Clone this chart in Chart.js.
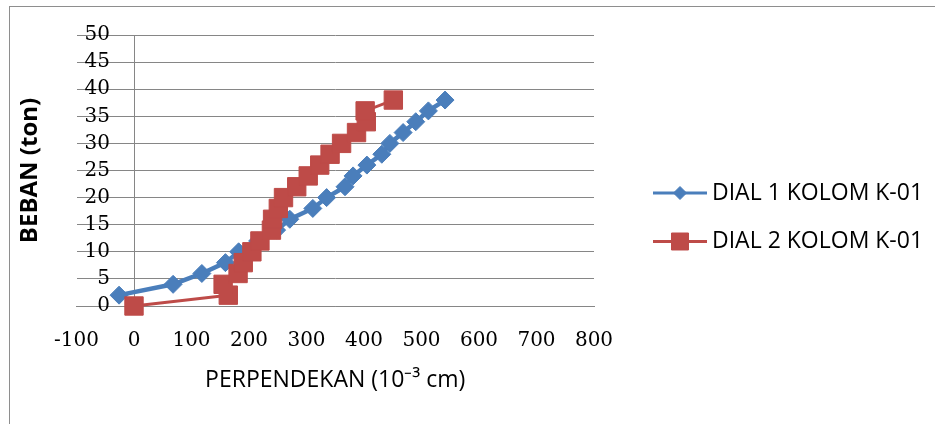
<!DOCTYPE html>
<html>
<head>
<meta charset="utf-8">
<script src="https://cdn.jsdelivr.net/npm/chart.js@4/dist/chart.umd.min.js"></script>
<style>
    html, body { margin: 0; padding: 0; background: #fff; }
    #wrap { position: relative; width: 935px; height: 424px; overflow: hidden; }
    #frame { position: absolute; left: 9px; top: 6px; width: 940px; height: 440px; border: 1px solid #8e8e8e; }
    #chartBeban { position: absolute; left: 0; top: 0; }
</style>
</head>
<body>
<div id="wrap">
    <div id="frame"></div>
    <canvas id="chartBeban" width="935" height="424"></canvas>
</div>
<script>
// DIAL 1 KOLOM K-01
const dial1X = [-26, 68, 118, 159, 182, 215, 248, 271, 311, 335, 367, 381, 405, 431, 445, 468, 490, 512, 541];
const dial1Y = [2, 4, 6, 8, 10, 12, 14, 16, 18, 20, 22, 24, 26, 28, 30, 32, 34, 36, 38];

// DIAL 2 KOLOM K-01
const dial2X = [0, 164, 155, 181, 190, 205, 219, 239, 241, 251, 260, 283, 303, 323, 341, 361, 387, 404, 402, 451];
const dial2Y = [0, 2, 4, 6, 8, 10, 12, 14, 16, 18, 20, 22, 24, 26, 28, 30, 32, 34, 36, 38];

const labelsSeries = ["DIAL 1 KOLOM K-01", "DIAL 2 KOLOM K-01"];
const ticksX = [-100, 0, 100, 200, 300, 400, 500, 600, 700, 800];
const ticksY = [0, 5, 10, 15, 20, 25, 30, 35, 40, 45, 50];

const bleu = "#4A7EBB";
const rouge = "#BE4B48";
const gris = "#868686";

const points = (xs, ys) => xs.map((x, i) => ({ x: x, y: ys[i] }));

// legende a droite : ligne + marqueur + texte (comme Excel)
const legendeExcel = {
    id: "legendeExcel",
    afterDraw(chart) {
        const g = chart.ctx;
        const droite = chart.chartArea.right;
        g.save();
        chart.data.datasets.forEach((ds, i) => {
            const y = 193 + i * 48.5;
            g.strokeStyle = ds.borderColor;
            g.fillStyle = ds.borderColor;
            g.lineWidth = 3;
            g.beginPath();
            g.moveTo(droite + 59, y);
            g.lineTo(droite + 113, y);
            g.stroke();
            g.lineWidth = 1;
            Chart.helpers.drawPoint(g, {
                pointStyle: ds.pointStyle,
                rotation: 0,
                radius: ds.pointStyle === "rect" ? 12 : 6.5,
                borderWidth: 1
            }, droite + 86, y);
            g.fillStyle = "#000";
            g.font = "23px 'Open Sans'";
            g.textAlign = "left";
            g.textBaseline = "middle";
            g.fillText(ds.label, droite + 118, y);
        });
        g.restore();
    }
};

const ctx = document.getElementById("chartBeban");

new Chart(ctx, {
    type: "scatter",
    data: {
        datasets: [{
            label: labelsSeries[0],
            data: points(dial1X, dial1Y),
            showLine: true,
            borderColor: bleu,
            backgroundColor: bleu,
            borderWidth: 4.5,
            pointStyle: "rectRot",
            pointRadius: 9,
            pointBorderWidth: 1,
            pointBorderColor: bleu,
            pointBackgroundColor: bleu,
            tension: 0,
            clip: false,
            order: 1
        }, {
            label: labelsSeries[1],
            data: points(dial2X, dial2Y),
            showLine: true,
            borderColor: rouge,
            backgroundColor: rouge,
            borderWidth: 3,
            pointStyle: "rect",
            pointRadius: 13,
            pointBorderWidth: 1,
            pointBorderColor: rouge,
            pointBackgroundColor: rouge,
            tension: 0,
            clip: false,
            order: 0
        }]
    },
    options: {
        responsive: false,
        animation: false,
        devicePixelRatio: 1,
        layout: {
            padding: { left: 0, top: 35, right: 341, bottom: 23.2 }
        },
        scales: {
            x: {
                type: "linear",
                position: "bottom",
                min: ticksX[0],
                max: ticksX[ticksX.length - 1],
                afterBuildTicks: (axis) => { axis.ticks = ticksX.map(v => ({ value: v })); },
                ticks: {
                    autoSkip: false,
                    padding: 23,
                    color: "#000",
                    font: { family: "DejaVu Serif", size: 20 }
                },
                // seule la ligne verticale a x = 0 (axe des ordonnees)
                grid: {
                    display: true,
                    drawTicks: false,
                    lineWidth: 1,
                    color: (c) => (c.tick && c.tick.value === 0) ? gris : "rgba(0,0,0,0)"
                },
                border: { display: true, color: gris, width: 1 },
                title: {
                    display: true,
                    text: "PERPENDEKAN (10⁻³ cm)",
                    color: "#000",
                    font: { family: "Open Sans", size: 23 },
                    padding: { top: -9.8, bottom: 7 }
                }
            },
            y: {
                type: "linear",
                position: "left",
                min: ticksY[0],
                max: ticksY[ticksY.length - 1],
                afterBuildTicks: (axis) => { axis.ticks = ticksY.map(v => ({ value: v })); },
                afterFit: (axis) => { axis.width = 0; },
                ticks: {
                    autoSkip: false,
                    mirror: true,
                    crossAlign: "far",
                    padding: 8,
                    color: "#000",
                    font: { family: "DejaVu Serif", size: 20 }
                },
                grid: { color: gris, lineWidth: 1, drawTicks: false },
                border: { display: false }
            }
        },
        plugins: {
            tooltip: { enabled: false },
            legend: { display: false },
            title: {
                display: true,
                position: "left",
                fullSize: false,
                text: "BEBAN (ton)",
                color: "#000",
                font: { family: "Open Sans", size: 24, weight: "bold" },
                padding: { top: 15.6, bottom: 32.1 }
            }
        }
    },
    plugins: [legendeExcel]
});
</script>
</body>
</html>
